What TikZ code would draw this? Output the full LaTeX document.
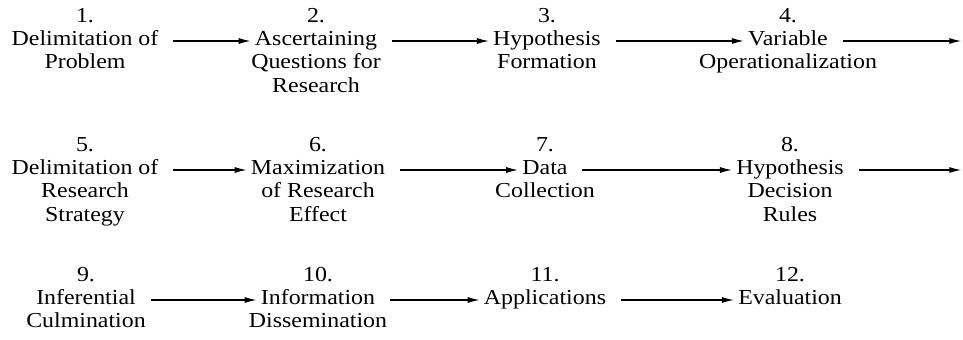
\documentclass[tikz,border=0pt]{standalone}
\usepackage{fontspec}
\setmainfont{Liberation Serif}[FakeStretch=1.12]
\usetikzlibrary{arrows.meta,positioning}

\begin{document}
\begin{tikzpicture}[x=0.75pt,y=0.75pt,
  stage/.style={font=\fontsize{16}{17}\selectfont, inner sep=1pt, text height=11pt, text depth=4pt},
  flow/.style={-{Latex[length=9pt,width=4.5pt]}, line width=0.95pt, shorten <=10pt, shorten >=2pt}]

\useasboundingbox (0,0) rectangle (963,-339);

% first row
\node [stage, label={[stage]above:1.}] (s1) at (85,-41) {Delimitation of};
\node [stage, below=0pt of s1] (s1b) {Problem};

\node [stage, label={[stage]above:2.}] (s2) at (316,-41) {Ascertaining};
\node [stage, below=0pt of s2] (s2b) {Questions for};
\node [stage, below=0pt of s2b] (s2c) {Research};

\node [stage, label={[stage]above:3.}] (s3) at (547,-41) {Hypothesis};
\node [stage, below=0pt of s3] (s3b) {Formation};

\node [stage, label={[stage]above:4.}] (s4) at (788,-41) {Variable};
\node [stage, below=0pt of s4] (s4b) {Operationalization};

\coordinate (e1) at (964,-41);

% second row
\node [stage, label={[stage]above:5.}] (s5) at (85,-170) {Delimitation of};
\node [stage, below=0pt of s5] (s5b) {Research};
\node [stage, below=0pt of s5b] (s5c) {Strategy};

\node [stage, label={[stage]above:6.}] (s6) at (318,-170) {Maximization};
\node [stage, below=0pt of s6] (s6b) {of Research};
\node [stage, below=0pt of s6b] (s6c) {Effect};

\node [stage, label={[stage]above:7.}] (s7) at (545,-170) {Data};
\node [stage, below=0pt of s7] (s7b) {Collection};

\node [stage, label={[stage]above:8.}] (s8) at (790,-170) {Hypothesis};
\node [stage, below=0pt of s8] (s8b) {Decision};
\node [stage, below=0pt of s8b] (s8c) {Rules};

\coordinate (e2) at (964,-170);

% third row
\node [stage, label={[stage]above:9.}] (s9) at (86,-300) {Inferential};
\node [stage, below=0pt of s9] (s9b) {Culmination};

\node [stage, label={[stage]above:10.}] (s10) at (318,-300) {Information};
\node [stage, below=0pt of s10] (s10b) {Dissemination};

\node [stage, label={[stage]above:11.}] (s11) at (545,-300) {Applications};

\node [stage, label={[stage]above:12.}] (s12) at (790,-300) {Evaluation};

\draw [flow] (s1) -- (s2);
\draw [flow] (s2) -- (s3);
\draw [flow] (s3) -- (s4);
\draw [flow] (s4) -- (e1);

\draw [flow] (s5) -- (s6);
\draw [flow] (s6) -- (s7);
\draw [flow] (s7) -- (s8);
\draw [flow] (s8) -- (e2);

\draw [flow] (s9) -- (s10);
\draw [flow] (s10) -- (s11);
\draw [flow] (s11) -- (s12);

\end{tikzpicture}
\end{document}
